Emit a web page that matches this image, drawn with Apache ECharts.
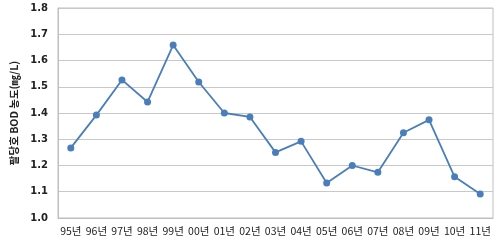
<!DOCTYPE html>
<html><head><meta charset="utf-8">
<script src="https://cdn.jsdelivr.net/npm/echarts@6/dist/echarts.min.js"></script>
<style>html,body{margin:0;padding:0;background:#fff}#c{width:500px;height:243px}</style>
</head><body><div id="c"></div>
<script>
var categories = ['95년','96년','97년','98년','99년','00년','01년','02년','03년','04년','05년','06년','07년','08년','09년','10년','11년'];
var bodValues = [1.267,1.392,1.526,1.442,1.659,1.518,1.400,1.385,1.250,1.292,1.133,1.200,1.174,1.325,1.374,1.157,1.091];
var yTicks = {min:1.0, max:1.8, interval:0.1};
var yName = '팔당호 BOD 농도(㎎/L)';

var chart = echarts.init(document.getElementById('c'), null, {renderer:'canvas'});
chart.setOption({
  animation:false,
  grid:{left:58, right:7, top:8, bottom:25, show:true, borderColor:'#bfbfbf', borderWidth:1},
  xAxis:{type:'category', data:categories, boundaryGap:true,
    axisLine:{show:true, lineStyle:{color:'#bfbfbf'}}, axisTick:{show:false},
    axisLabel:{color:'#222', fontSize:10.5, fontFamily:'Noto Sans CJK KR', margin:8, interval:0}},
  yAxis:{type:'value', min:yTicks.min, max:yTicks.max, interval:yTicks.interval,
    name:yName, nameLocation:'middle', nameGap:35, nameRotate:90,
    nameTextStyle:{color:'#222', fontSize:10.5, fontWeight:'bold', fontFamily:'Noto Sans CJK KR'},
    axisLine:{show:true, lineStyle:{color:'#bfbfbf'}}, axisTick:{show:false},
    axisLabel:{color:'#222', fontSize:10, fontWeight:'bold', fontFamily:'DejaVu Sans', margin:10,
      formatter:function(v){return v.toFixed(1);}},
    splitLine:{lineStyle:{color:'#c8c8c8', width:1}}},
  series:[{type:'line', data:bodValues, symbol:'circle', symbolSize:7,
    lineStyle:{color:'#4a7ebb', width:1.8}, itemStyle:{color:'#4a7ebb'}}]
});
</script></body></html>
